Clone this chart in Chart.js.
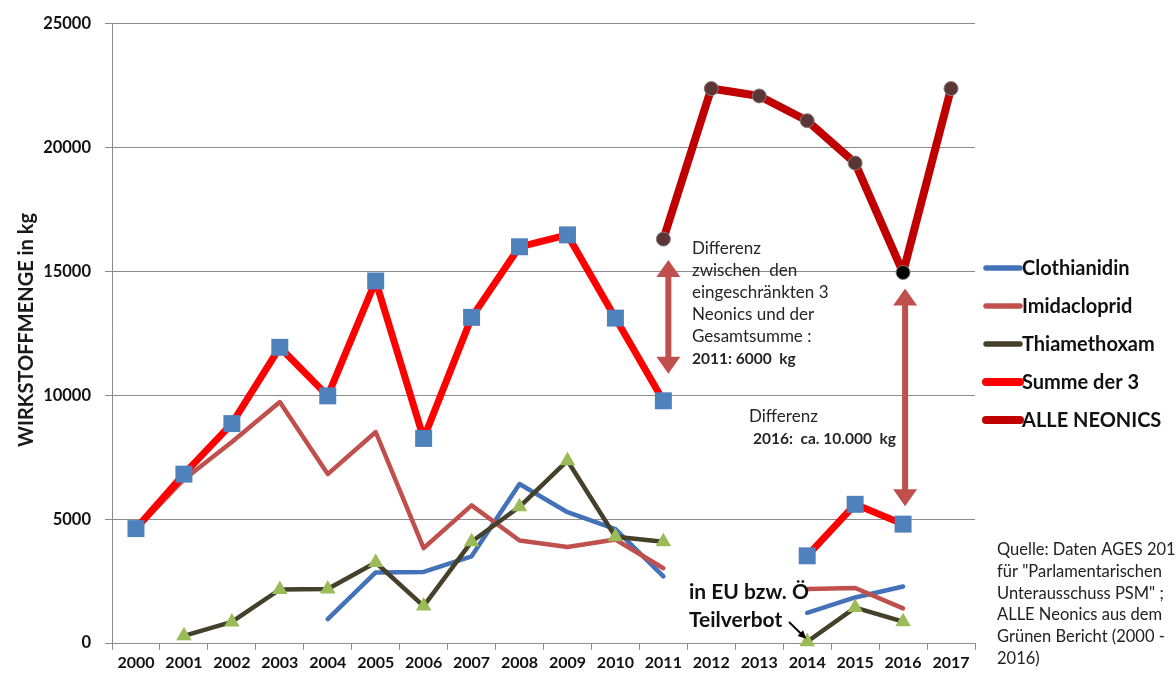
<!DOCTYPE html>
<html>
<head>
<meta charset="utf-8">
<title>Neonicotinoide Wirkstoffmengen</title>
<script src="https://cdn.jsdelivr.net/npm/chart.js@4.4.1/dist/chart.umd.min.js"></script>
<style>
  body { margin: 0; background: #fff; }
  canvas { display: block; }
</style>
</head>
<body>
<canvas id="neonics" width="1176" height="678"></canvas>
<script>
const years = ['2000', '2001', '2002', '2003', '2004', '2005', '2006', '2007', '2008',
  '2009', '2010', '2011', '2012', '2013', '2014', '2015', '2016', '2017'];

// kg Wirkstoff pro Jahr, null = keine Angabe
const clothianidin = [null, null, null, null, 960, 2850, 2870, 3500, 6420, 5280, 4600, 2690, null, null, 1220, 1840, 2280, null];
const imidacloprid = [4600, 6600, 8120, 9730, 6820, 8520, 3830, 5560, 4140, 3880, 4180, 3020, null, null, 2180, 2220, 1400, null];
const thiamethoxam = [null, 290, 850, 2160, 2180, 3250, 1490, 4090, 5500, 7360, 4290, 4090, null, null, 50, 1430, 860, null];
const summeDer3 = [4620, 6820, 8860, 11940, 9980, 14620, 8260, 13150, 16000, 16480, 13120, 9780, null, null, 3520, 5600, 4800, null];
const alleNeonics = [null, null, null, null, null, null, null, null, null, null, null, 16310, 22390, 22090, 21090, 19380, 14960, 22390];

const yTicks = [0, 5000, 10000, 15000, 20000, 25000];

const seriesNames = ['Clothianidin', 'Imidacloprid', 'Thiamethoxam', 'Summe der 3', 'ALLE NEONICS'];
const yTitle = 'WIRKSTOFFMENGE in kg';

const note2011 = ['Differenz', 'zwischen  den', 'eingeschränkten 3', 'Neonics und der', 'Gesamtsumme :'];
const note2011Bold = '2011: 6000  kg';
const note2016 = 'Differenz';
const note2016Bold = '2016:  ca. 10.000  kg';
const banNote = ['in EU bzw. Ö', 'Teilverbot'];
const sourceNote = ['Quelle: Daten AGES 2012', 'für "Parlamentarischen', 'Unterausschuss PSM" ;', 'ALLE Neonics aus dem', 'Grünen Bericht (2000 -', '2016)'];

Chart.defaults.font.family = 'Lato, "Liberation Sans", sans-serif';
Chart.defaults.color = '#1a1a1a';

const arrowRed = '#C0504D';

function doubleArrow(ctx, x, yTop, yBottom) {
  const head = 17, half = 12;
  ctx.save();
  ctx.fillStyle = arrowRed;
  ctx.strokeStyle = arrowRed;
  ctx.lineWidth = 6;
  ctx.beginPath();
  ctx.moveTo(x, yTop + head - 2);
  ctx.lineTo(x, yBottom - head + 2);
  ctx.stroke();
  ctx.beginPath();
  ctx.moveTo(x, yTop);
  ctx.lineTo(x + half, yTop + head);
  ctx.lineTo(x - half, yTop + head);
  ctx.closePath();
  ctx.fill();
  ctx.beginPath();
  ctx.moveTo(x, yBottom);
  ctx.lineTo(x + half, yBottom - head);
  ctx.lineTo(x - half, yBottom - head);
  ctx.closePath();
  ctx.fill();
  ctx.restore();
}

function singleArrow(ctx, x1, y1, x2, y2) {
  const ang = Math.atan2(y2 - y1, x2 - x1);
  const len = 9, spread = 0.45;
  ctx.save();
  ctx.strokeStyle = '#000';
  ctx.fillStyle = '#000';
  ctx.lineWidth = 1.8;
  ctx.beginPath();
  ctx.moveTo(x1, y1);
  ctx.lineTo(x2 - Math.cos(ang) * len * 0.8, y2 - Math.sin(ang) * len * 0.8);
  ctx.stroke();
  ctx.beginPath();
  ctx.moveTo(x2, y2);
  ctx.lineTo(x2 - len * Math.cos(ang - spread), y2 - len * Math.sin(ang - spread));
  ctx.lineTo(x2 - len * Math.cos(ang + spread), y2 - len * Math.sin(ang + spread));
  ctx.closePath();
  ctx.fill();
  ctx.restore();
}

// arrows between the two totals and the text notes
const notesPlugin = {
  id: 'notes',
  afterDatasetsDraw(chart) {
    const { ctx, scales: { x, y } } = chart;
    doubleArrow(ctx, x.getPixelForValue(11) + 5,
      y.getPixelForValue(alleNeonics[11]) + 21, y.getPixelForValue(summeDer3[11]) - 27);
    doubleArrow(ctx, x.getPixelForValue(16) + 2,
      y.getPixelForValue(alleNeonics[16]) + 16, y.getPixelForValue(summeDer3[16]) - 18);
    singleArrow(ctx, 789, 622, x.getPixelForValue(14) - 1, y.getPixelForValue(thiamethoxam[14]) - 3);
  },
  afterDraw(chart) {
    const { ctx } = chart;
    ctx.save();

    // y axis title
    ctx.save();
    ctx.translate(27, 330);
    ctx.rotate(-Math.PI / 2);
    ctx.font = 'bold 20px Lato';
    ctx.fillStyle = '#1a1a1a';
    ctx.textAlign = 'center';
    ctx.textBaseline = 'middle';
    ctx.fillText(yTitle, 0, 0);
    ctx.restore();

    ctx.textBaseline = 'middle';
    ctx.textAlign = 'left';
    ctx.fillStyle = '#262626';

    ctx.font = '17px Lato';
    note2011.forEach((line, i) => ctx.fillText(line, 692, 249 + i * 22));
    ctx.font = 'bold 15.5px Lato';
    ctx.fillText(note2011Bold, 692, 359);

    ctx.font = '17px Lato';
    ctx.fillText(note2016, 749, 417);
    ctx.font = 'bold 15.5px Lato';
    ctx.fillText(note2016Bold, 753, 439);

    ctx.fillStyle = '#111';
    ctx.font = 'bold 21px Lato';
    ctx.fillText(banNote[0], 689, 592);
    ctx.fillText(banNote[1], 689, 620);

    ctx.fillStyle = '#222';
    ctx.font = '16.5px Lato';
    sourceNote.forEach((line, i) => ctx.fillText(line, 997, 550 + i * 21.7));

    // legend
    chart.data.datasets.forEach((ds, i) => {
      const ly = 268 + i * 38;
      ctx.save();
      ctx.strokeStyle = ds.borderColor;
      ctx.lineWidth = Math.min(ds.borderWidth + 1, 8);
      ctx.lineCap = 'round';
      ctx.beginPath();
      ctx.moveTo(986, ly);
      ctx.lineTo(1020, ly);
      ctx.stroke();
      if (ds.pointRadius > 0) {
        const bg = Array.isArray(ds.pointBackgroundColor) ? ds.pointBackgroundColor[0] : ds.pointBackgroundColor;
        ctx.fillStyle = bg;
        ctx.strokeStyle = ds.pointBorderColor || bg;
        Chart.helpers.drawPoint(ctx, {
          pointStyle: ds.pointStyle,
          rotation: 0,
          borderWidth: ds.pointBorderWidth || 0
        }, 1003, ly, ds.pointStyle === 'rect' ? 9 : 7);
      }
      ctx.restore();
      ctx.fillStyle = '#111';
      ctx.font = 'bold 20px Lato';
      ctx.fillText(ds.label, 1022, ly + 1);
    });

    ctx.restore();
  }
};

const alleColors = alleNeonics.map((v, i) => i === 16 ? '#000000' : '#5A3636');

new Chart(document.getElementById('neonics'), {
  type: 'line',
  data: {
    labels: years,
    datasets: [
      {
        label: seriesNames[0],
        data: clothianidin,
        borderColor: '#4472B8',
        borderWidth: 4.5,
        pointRadius: 0,
        order: 4
      },
      {
        label: seriesNames[1],
        data: imidacloprid,
        borderColor: '#C0504D',
        borderWidth: 4.5,
        pointRadius: 0,
        order: 3
      },
      {
        label: seriesNames[2],
        data: thiamethoxam,
        borderColor: '#45402A',
        borderWidth: 4.5,
        pointStyle: 'triangle',
        pointRadius: 9,
        pointBackgroundColor: '#9BBB59',
        pointBorderWidth: 0,
        order: 2
      },
      {
        label: seriesNames[3],
        data: summeDer3,
        borderColor: '#FF0000',
        borderWidth: 7,
        pointStyle: 'rect',
        pointRadius: 12,
        pointBackgroundColor: '#4F81BD',
        pointBorderWidth: 0,
        order: 1
      },
      {
        label: seriesNames[4],
        data: alleNeonics,
        borderColor: '#C00000',
        borderWidth: 8,
        pointStyle: 'circle',
        pointRadius: 7,
        pointBackgroundColor: alleColors,
        pointBorderColor: '#8a7a7a',
        pointBorderWidth: 1,
        order: 0
      }
    ].map(ds => Object.assign({
      spanGaps: false,
      tension: 0,
      fill: false,
      clip: false,
      borderJoinStyle: 'round',
      borderCapStyle: 'round',
      pointHoverRadius: 0
    }, ds))
  },
  options: {
    responsive: false,
    animation: false,
    events: [],
    layout: { padding: { top: 18, right: 201, left: 0, bottom: 0 } },
    plugins: {
      legend: { display: false },
      tooltip: { enabled: false }
    },
    scales: {
      x: {
        type: 'category',
        offset: true,
        grid: {
          offset: true,
          drawOnChartArea: false,
          drawTicks: true,
          tickLength: 7,
          color: '#8c8c8c'
        },
        border: { color: '#8c8c8c', width: 1 },
        ticks: {
          autoSkip: false,
          maxRotation: 0,
          padding: 3,
          font: { size: 16, weight: 'bold' },
          color: '#111'
        },
        afterFit(scale) { scale.height = 35; }
      },
      y: {
        min: 0,
        max: 25000,
        afterBuildTicks(scale) { scale.ticks = yTicks.map(v => ({ value: v })); },
        grid: {
          color: '#8c8c8c',
          tickLength: 7
        },
        border: { color: '#8c8c8c', width: 1 },
        ticks: {
          padding: 14,
          font: { size: 16.5, weight: 'bold' },
          color: '#111',
          callback: v => String(v)
        },
        afterFit(scale) { scale.width = 112; }
      }
    }
  },
  plugins: [notesPlugin]
});
</script>
</body>
</html>
